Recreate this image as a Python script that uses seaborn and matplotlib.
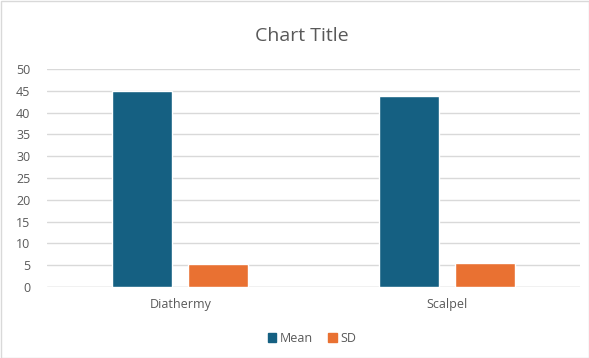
import matplotlib
matplotlib.use("Agg")
import matplotlib.pyplot as plt
import seaborn as sns
import pandas as pd
from matplotlib.patches import Rectangle

categories = ["Diathermy", "Scalpel"]
series_names = ["Mean", "SD"]
mean_values = [45.0, 43.8]
sd_values = [5.2, 5.4]
y_ticks = [0, 5, 10, 15, 20, 25, 30, 35, 40, 45, 50]

df = pd.DataFrame({
    "category": categories * 2,
    "series": [series_names[0]] * len(categories) + [series_names[1]] * len(categories),
    "value": mean_values + sd_values,
})

sns.set_theme(style="white")
plt.rcParams['font.family'] = ['Open Sans', 'DejaVu Sans']

fig = plt.figure(figsize=(5.89, 3.58), dpi=100)
ax = fig.add_axes([47/589, 1 - 287/358, 533/589, (287 - 69)/358])

palette = {"Mean": "#156082", "SD": "#E97132"}
sns.barplot(data=df, x="category", y="value", hue="series", palette=palette,
            width=0.57, gap=0.21, ax=ax, saturation=1, legend=False, zorder=3)

ax.set_ylim(0, 50)
ax.set_xlim(-0.5, 1.5)
ax.set_yticks(y_ticks)
ax.set_yticklabels([str(t) for t in y_ticks])
ax.yaxis.grid(True, color="#d9d9d9", linewidth=1, zorder=0)
ax.set_axisbelow(True)
for s in ax.spines.values():
    s.set_visible(False)
ax.axhline(0, color="#d9d9d9", linewidth=1, zorder=1)
ax.tick_params(axis="both", length=0, labelsize=9, colors="#595959", pad=8)
ax.tick_params(axis="y", pad=12)
ax.set_xlabel("")
ax.set_ylabel("")

fig.text(0.512, 1 - 36/358, "Chart Title", ha="center", va="center",
         fontsize=14, color="#595959")

handles = [Rectangle((0, 0), 1, 1, color=palette[n]) for n in series_names]
fig.legend(handles, series_names, loc="center", bbox_to_anchor=(0.53, 1 - 338/358),
           ncol=2, frameon=False, fontsize=9, labelcolor="#595959",
           handlelength=0.7, handleheight=0.7, handletextpad=0.3, columnspacing=1.2)

border = Rectangle((0.5/589, 0.5/358), 1 - 1/589, 1 - 1/358, transform=fig.transFigure,
                   fill=False, edgecolor="#d9d9d9", linewidth=1)
fig.patches.append(border)

fig.savefig("out.png", dpi=100, facecolor="white")
